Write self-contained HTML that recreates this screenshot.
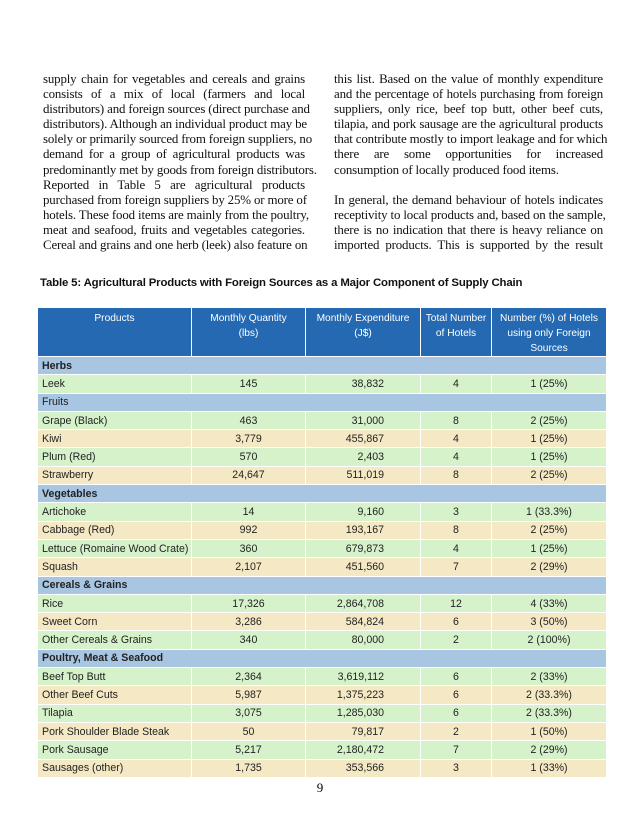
<!DOCTYPE html>
<html><head><meta charset="utf-8"><style>
body{margin:0;width:640px;height:828px;background:#fff;position:relative;overflow:hidden}
.col{position:absolute;top:72px;font-family:"Liberation Serif",serif;font-size:12.9px;color:#111;letter-spacing:-0.15px}
.col div{height:15.1px;line-height:15.1px;text-align:justify;text-align-last:justify;white-space:nowrap}
.col div.l{text-align-last:left}
.col div.b{height:15.1px}
.title{position:absolute;left:40px;top:277px;font-family:"Liberation Sans",sans-serif;font-weight:bold;font-size:11.4px;color:#111;letter-spacing:-0.15px}
table{position:absolute;left:37px;top:307px;width:569px;border-collapse:collapse;font-family:"Liberation Sans",sans-serif;font-size:10.6px;color:#222;table-layout:fixed}
td,th{border:1.5px solid #fff;padding:0 4px;height:17.3px;line-height:16px;white-space:nowrap}
th{background:#2469b2;color:#fff;font-weight:normal;height:45px;vertical-align:top;line-height:15px;padding:3px 1px 0;text-align:center;white-space:normal;font-size:10.2px}
tr.s td{background:#a8c5e2;}
tr.g td{background:#d6f2cb}
tr.y td{background:#f4e9c4}
td.c{text-align:center}td.r{text-align:right;padding-right:36px}
.pg{position:absolute;left:0;width:640px;top:780px;text-align:center;font-family:"Liberation Serif",serif;font-size:13px}
</style></head><body>
<div class="col" style="left:43px;width:262px">
<div>supply chain for vegetables and cereals and grains</div>
<div>consists of a mix of local (farmers and local</div>
<div>distributors) and foreign sources (direct purchase and</div>
<div>distributors). Although an individual product may be</div>
<div>solely or primarily sourced from foreign suppliers, no</div>
<div>demand for a group of agricultural products was</div>
<div>predominantly met by goods from foreign distributors.</div>
<div>Reported in Table 5 are agricultural products</div>
<div>purchased from foreign suppliers by 25% or more of</div>
<div>hotels. These food items are mainly from the poultry,</div>
<div>meat and seafood, fruits and vegetables categories.</div>
<div>Cereal and grains and one herb (leek) also feature on</div>
</div>
<div class="col" style="left:334px;width:269px">
<div>this list. Based on the value of monthly expenditure</div>
<div>and the percentage of hotels purchasing from foreign</div>
<div>suppliers, only rice, beef top butt, other beef cuts,</div>
<div>tilapia, and pork sausage are the agricultural products</div>
<div>that contribute mostly to import leakage and for which</div>
<div>there are some opportunities for increased</div>
<div class="l">consumption of locally produced food items.</div>
<div class="b"></div>
<div>In general, the demand behaviour of hotels indicates</div>
<div>receptivity to local products and, based on the sample,</div>
<div>there is no indication that there is heavy reliance on</div>
<div>imported products. This is supported by the result</div>
</div>
<div class="title">Table 5: Agricultural Products with Foreign Sources as a Major Component of Supply Chain</div>
<table>
<colgroup><col style="width:154px"><col style="width:114px"><col style="width:115px"><col style="width:71px"><col style="width:115px"></colgroup>
<tr><th>Products</th><th>Monthly Quantity<br>(lbs)</th><th>Monthly Expenditure<br>(J$)</th><th>Total Number<br>of Hotels</th><th>Number (%) of Hotels using only Foreign Sources</th></tr>
<tr class="s"><td colspan="5"><b>Herbs</b></td></tr>
<tr class="g"><td>Leek</td><td class="c">145</td><td class="r">38,832</td><td class="c">4</td><td class="c">1 (25%)</td></tr>
<tr class="s"><td colspan="5">Fruits</td></tr>
<tr class="g"><td>Grape (Black)</td><td class="c">463</td><td class="r">31,000</td><td class="c">8</td><td class="c">2 (25%)</td></tr>
<tr class="y"><td>Kiwi</td><td class="c">3,779</td><td class="r">455,867</td><td class="c">4</td><td class="c">1 (25%)</td></tr>
<tr class="g"><td>Plum (Red)</td><td class="c">570</td><td class="r">2,403</td><td class="c">4</td><td class="c">1 (25%)</td></tr>
<tr class="y"><td>Strawberry</td><td class="c">24,647</td><td class="r">511,019</td><td class="c">8</td><td class="c">2 (25%)</td></tr>
<tr class="s"><td colspan="5"><b>Vegetables</b></td></tr>
<tr class="g"><td>Artichoke</td><td class="c">14</td><td class="r">9,160</td><td class="c">3</td><td class="c">1 (33.3%)</td></tr>
<tr class="y"><td>Cabbage (Red)</td><td class="c">992</td><td class="r">193,167</td><td class="c">8</td><td class="c">2 (25%)</td></tr>
<tr class="g"><td>Lettuce (Romaine Wood Crate)</td><td class="c">360</td><td class="r">679,873</td><td class="c">4</td><td class="c">1 (25%)</td></tr>
<tr class="y"><td>Squash</td><td class="c">2,107</td><td class="r">451,560</td><td class="c">7</td><td class="c">2 (29%)</td></tr>
<tr class="s"><td colspan="5"><b>Cereals &amp; Grains</b></td></tr>
<tr class="g"><td>Rice</td><td class="c">17,326</td><td class="r">2,864,708</td><td class="c">12</td><td class="c">4 (33%)</td></tr>
<tr class="y"><td>Sweet Corn</td><td class="c">3,286</td><td class="r">584,824</td><td class="c">6</td><td class="c">3 (50%)</td></tr>
<tr class="g"><td>Other Cereals &amp; Grains</td><td class="c">340</td><td class="r">80,000</td><td class="c">2</td><td class="c">2 (100%)</td></tr>
<tr class="s"><td colspan="5"><b>Poultry, Meat &amp; Seafood</b></td></tr>
<tr class="g"><td>Beef Top Butt</td><td class="c">2,364</td><td class="r">3,619,112</td><td class="c">6</td><td class="c">2 (33%)</td></tr>
<tr class="y"><td>Other Beef Cuts</td><td class="c">5,987</td><td class="r">1,375,223</td><td class="c">6</td><td class="c">2 (33.3%)</td></tr>
<tr class="g"><td>Tilapia</td><td class="c">3,075</td><td class="r">1,285,030</td><td class="c">6</td><td class="c">2 (33.3%)</td></tr>
<tr class="y"><td>Pork Shoulder Blade Steak</td><td class="c">50</td><td class="r">79,817</td><td class="c">2</td><td class="c">1 (50%)</td></tr>
<tr class="g"><td>Pork Sausage</td><td class="c">5,217</td><td class="r">2,180,472</td><td class="c">7</td><td class="c">2 (29%)</td></tr>
<tr class="y"><td>Sausages (other)</td><td class="c">1,735</td><td class="r">353,566</td><td class="c">3</td><td class="c">1 (33%)</td></tr>
</table>
<div class="pg">9</div>
</body></html>
